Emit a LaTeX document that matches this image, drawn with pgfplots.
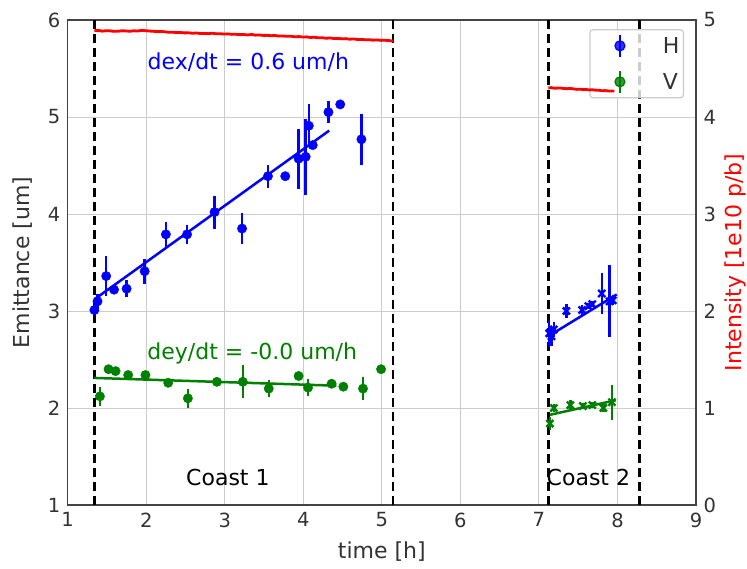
\documentclass[border=0pt]{standalone}
\usepackage{pgfplots}
\pgfplotsset{compat=1.18}
\usepackage{fontspec}
\setmainfont{DejaVu Sans}
\definecolor{mblue}{RGB}{0,0,255}
\definecolor{mgreen}{RGB}{0,128,0}
\definecolor{mred}{RGB}{255,0,0}
\definecolor{txt}{RGB}{51,51,51}
\definecolor{frame}{RGB}{68,68,68}
\definecolor{gridc}{RGB}{204,204,204}
\begin{document}
\begin{tikzpicture}
\useasboundingbox (-67.7pt,-63pt) rectangle (679.3pt,505pt);
\pgfplotsset{
  every axis/.append style={
    scale only axis, width=628.3pt, height=485pt,
    at={(0,0)}, anchor=south west,
    xmin=1, xmax=9,
    major tick length=0pt,
    tick label style={font=\fontsize{19.5}{22}\selectfont, text=txt},
    label style={font=\fontsize{22}{26}\selectfont},
    /pgf/number format/assume math mode=true,
  }
}
\begin{axis}[
  ymin=1, ymax=6,
  xtick={1,...,9}, ytick={1,...,6},
  grid=major, major grid style={gridc, line width=1pt},
  axis line style={frame, line width=1.2pt},
  xlabel={time [h]}, ylabel={Emittance [um]},
  xlabel style={text=txt, at={(axis description cs:0.5,-0.0969)}, anchor=center},
  ylabel style={text=txt, at={(axis description cs:-0.0716,0.5)}, anchor=center},
  xticklabel style={yshift=-4pt},
  yticklabel style={xshift=-4pt},
  legend style={at={(0.981,0.981)}, anchor=north east, draw=gridc, line width=1.2pt,
    rounded corners=3pt, fill=white, fill opacity=0.8, text opacity=1, draw opacity=1,
    font=\fontsize{22}{26}\selectfont, text=txt, row sep=8pt, inner sep=2pt},
  legend cell align=left,
  error bars/error bar style={line width=2.5pt},
]
% coast boundaries
\addplot[black, line width=2.4pt, dash pattern=on 9pt off 5pt, forget plot] coordinates {(1.34,1) (1.34,6)};
\addplot[black, line width=2.4pt, dash pattern=on 9pt off 5pt, forget plot] coordinates {(5.14,1) (5.14,6)};
\addplot[black, line width=2.4pt, dash pattern=on 9pt off 5pt, forget plot] coordinates {(7.12,1) (7.12,6)};
\addplot[black, line width=2.4pt, dash pattern=on 9pt off 5pt, forget plot] coordinates {(8.28,1) (8.28,6)};
% H coast 1
\addplot[mblue, only marks, mark=*, mark size=4.7pt, forget plot,
  error bars/.cd, y dir=both, y explicit, error mark=none,
  error bar style={mblue}] coordinates {
  (1.34,3.01) +- (0,0.0)
  (1.38,3.10) +- (0,0.08)
  (1.49,3.36) +- (0,0.21)
  (1.59,3.22) +- (0,0.02)
  (1.75,3.23) +- (0,0.09)
  (1.98,3.41) +- (0,0.13)
  (2.25,3.79) +- (0,0.13)
  (2.52,3.79) +- (0,0.10)
  (2.87,4.02) +- (0,0.17)
  (3.22,3.85) +- (0,0.16)
  (3.55,4.39) +- (0,0.12)
  (3.77,4.39) +- (0,0.0)
  (3.94,4.57) +- (0,0.31)
  (4.03,4.59) +- (0,0.39)
  (4.07,4.91) +- (0,0.22)
  (4.12,4.71) +- (0,0.0)
  (4.32,5.05) +- (0,0.11)
  (4.47,5.13) +- (0,0.0)
  (4.74,4.77) +- (0,0.26)
};
% V coast 1
\addplot[mgreen, only marks, mark=*, mark size=4.7pt, forget plot,
  error bars/.cd, y dir=both, y explicit, error mark=none,
  error bar style={mgreen}] coordinates {
  (1.41,2.12) +- (0,0.10)
  (1.52,2.40) +- (0,0.04)
  (1.61,2.38) +- (0,0.0)
  (1.77,2.34) +- (0,0.0)
  (1.99,2.34) +- (0,0.0)
  (2.28,2.26) +- (0,0.0)
  (2.53,2.10) +- (0,0.10)
  (2.90,2.27) +- (0,0.0)
  (3.23,2.27) +- (0,0.17)
  (3.56,2.20) +- (0,0.09)
  (3.94,2.33) +- (0,0.0)
  (4.06,2.21) +- (0,0.09)
  (4.36,2.25) +- (0,0.0)
  (4.51,2.22) +- (0,0.0)
  (4.76,2.20) +- (0,0.12)
  (4.99,2.40) +- (0,0.0)
};
% H coast 2
\addplot[mblue, only marks, mark=x, mark size=5pt, line width=2.4pt, forget plot,
  error bars/.cd, y dir=both, y explicit, error mark=none,
  error bar style={mblue}] coordinates {
  (7.13,2.77) +- (0,0.14)
  (7.16,2.74) +- (0,0.10)
  (7.19,2.81) +- (0,0.08)
  (7.35,3.00) +- (0,0.07)
  (7.55,3.01) +- (0,0.05)
  (7.63,3.05) +- (0,0.03)
  (7.68,3.07) +- (0,0.03)
  (7.80,3.18) +- (0,0.21)
  (7.90,3.10) +- (0,0.37)
  (7.94,3.11) +- (0,0.05)
};
% V coast 2
\addplot[mgreen, only marks, mark=x, mark size=5pt, line width=2.4pt, forget plot,
  error bars/.cd, y dir=both, y explicit, error mark=none,
  error bar style={mgreen}] coordinates {
  (7.14,1.84) +- (0,0.07)
  (7.19,2.00) +- (0,0.04)
  (7.40,2.03) +- (0,0.05)
  (7.56,2.02) +- (0,0.03)
  (7.68,2.03) +- (0,0.03)
  (7.82,2.00) +- (0,0.04)
  (7.93,2.06) +- (0,0.18)
};
% fits
\addplot[mblue, line width=2.5pt, forget plot] coordinates {(1.34,3.12) (4.33,4.86)};
\addplot[mgreen, line width=2.5pt, forget plot] coordinates {(1.34,2.31) (4.42,2.23)};
\addplot[mblue, line width=2.5pt, forget plot] coordinates {(7.12,2.74) (7.99,3.17)};
\addplot[mgreen, line width=2.5pt, forget plot] coordinates {(7.14,1.93) (7.98,2.08)};
% annotations
\node[mblue, font=\fontsize{22}{26}\selectfont] at (axis cs:3.30,5.567) {dex/dt = 0.6 um/h};
\node[mgreen, font=\fontsize{22}{26}\selectfont] at (axis cs:3.35,2.567) {dey/dt = -0.0 um/h};
\node[black, font=\fontsize{22}{26}\selectfont] at (axis cs:3.04,1.28) {Coast 1};
\node[black, font=\fontsize{22}{26}\selectfont] at (axis cs:7.63,1.28) {Coast 2};
% legend
\addlegendimage{legend image code/.code={\path[draw=none,fill=none] (0pt,-14pt) rectangle (40pt,14pt); \draw[mblue,line width=2.5pt](28pt,-11pt)--(28pt,11pt); \fill[mblue](28pt,0pt) circle (5pt);}}
\addlegendentry{\hspace{29pt}H\hspace{3pt}}
\addlegendimage{legend image code/.code={\path[draw=none,fill=none] (0pt,-14pt) rectangle (40pt,14pt); \draw[mgreen,line width=2.5pt](28pt,-11pt)--(28pt,11pt); \fill[mgreen](28pt,0pt) circle (5pt);}}
\addlegendentry{\hspace{29pt}V\hspace{3pt}}
\end{axis}
\begin{axis}[
  ymin=0, ymax=5, ytick={0,...,5},
  axis x line=none, axis y line*=right,
  axis line style={frame, line width=1.2pt},
  ylabel={Intensity [1e10 p/b]},
  ylabel style={text=mred, at={(axis description cs:1.062,0.5)}, anchor=center, rotate=0},
  yticklabel style={xshift=4pt},
]
\addplot[mred, line width=2.8pt] coordinates {
(1.34,4.890) (1.39,4.893) (1.44,4.885) (1.49,4.890) (1.54,4.888) (1.59,4.883) (1.64,4.884) (1.69,4.889) (1.74,4.887) (1.79,4.884) (1.84,4.889)
(1.89,4.886) (1.94,4.893) (1.99,4.890) (2.04,4.886) (2.09,4.884) (2.14,4.880) (2.19,4.882) (2.24,4.878) (2.29,4.873) (2.34,4.874) (2.39,4.870) (2.44,4.871)
(2.49,4.867) (2.54,4.868) (2.59,4.863) (2.64,4.866) (2.69,4.861) (2.74,4.862) (2.79,4.859) (2.84,4.864) (2.89,4.858) (2.94,4.859) (2.99,4.855) (3.04,4.857)
(3.09,4.852) (3.14,4.853) (3.19,4.849) (3.24,4.850) (3.29,4.846) (3.34,4.851) (3.39,4.844) (3.44,4.846) (3.49,4.841) (3.54,4.842) (3.59,4.838) (3.64,4.840)
(3.69,4.834) (3.74,4.835) (3.79,4.832) (3.84,4.833) (3.89,4.827) (3.94,4.829) (3.99,4.825) (4.04,4.826) (4.09,4.820) (4.14,4.822) (4.19,4.817) (4.24,4.818)
(4.29,4.812) (4.34,4.815) (4.39,4.809) (4.44,4.811) (4.49,4.806) (4.54,4.808) (4.59,4.802) (4.64,4.805) (4.69,4.799) (4.74,4.800) (4.79,4.796) (4.84,4.797)
(4.89,4.792) (4.94,4.795) (4.99,4.790) (5.04,4.791) (5.09,4.788) (5.14,4.782)
};
\addplot[mred, line width=2.8pt] coordinates {
(7.12,4.300) (7.16,4.303) (7.20,4.296) (7.24,4.299) (7.28,4.298) (7.32,4.293) (7.36,4.292) (7.40,4.294) (7.44,4.290) (7.48,4.285) (7.52,4.287)
(7.56,4.283) (7.60,4.284) (7.64,4.279) (7.68,4.281) (7.72,4.277) (7.76,4.276) (7.80,4.271) (7.84,4.272) (7.88,4.269) (7.92,4.267) (7.96,4.268)
};
\end{axis}
\end{tikzpicture}
\end{document}
